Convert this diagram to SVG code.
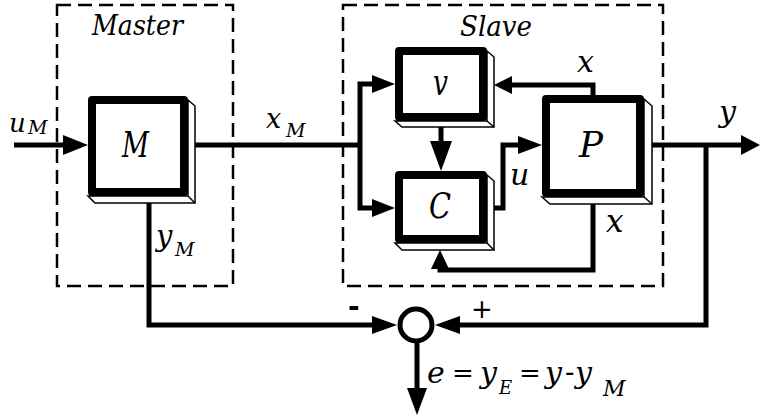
<svg xmlns="http://www.w3.org/2000/svg" width="760" height="417" viewBox="0 0 760 417" font-family="'DejaVu Serif', serif" font-style="italic">
<style>
.dash{fill:none;stroke:#000;stroke-width:2.5;stroke-dasharray:14 7}
.face{fill:#fff;stroke:#000;stroke-width:8;stroke-linejoin:round}
.shadow{fill:#fff;stroke:#000;stroke-width:1.5;stroke-linejoin:miter}
.wire{fill:none;stroke:#000;stroke-width:5;stroke-linejoin:miter;stroke-linecap:butt}
.head{fill:#000;stroke:none}
text{fill:#000}
</style>
<rect width="760" height="417" fill="#fff"/>

<g id="master-frame">
  <rect class="dash" x="57" y="5" width="176" height="281"/>
  <text x="92" y="35" font-size="28" textLength="91" lengthAdjust="spacingAndGlyphs">Master</text>
</g>
<g id="slave-frame">
  <rect class="dash" x="343" y="5" width="320" height="281"/>
  <text x="460" y="36" font-size="28" textLength="72" lengthAdjust="spacingAndGlyphs">Slave</text>
</g>

<g id="connectors">
  <path class="wire" d="M14 145H66"/>
  <polygon class="head" points="63,135 88,145 63,155"/>
  <path class="wire" d="M188 145H360"/>
  <path class="wire" d="M374 84H360V208H374"/>
  <polygon class="head" points="372,75 395,84 372,93"/>
  <polygon class="head" points="372,199 395,208 372,217"/>
  <path class="wire" d="M441 127V143"/>
  <polygon class="head" points="430,141 452,141 441,171"/>
  <path class="wire" d="M492 208H503V145H520"/>
  <polygon class="head" points="518,136 542,145 518,154"/>
  <path class="wire" d="M593 96V85H510"/>
  <polygon class="head" points="512,76 494,85 512,94"/>
  <path class="wire" d="M593 203V270H440V267"/>
  <polygon class="head" points="431,269 449,269 440,250"/>
  <path class="wire" d="M648 145H743"/>
  <polygon class="head" points="741,135 760,145 741,155"/>
  <path class="wire" d="M706 145V325H458"/>
  <polygon class="head" points="460,316 435,325 460,334"/>
  <path class="wire" d="M149 200V325H374"/>
  <polygon class="head" points="372,316 397,325 372,334"/>
  <path class="wire" d="M417 340V390"/>
  <polygon class="head" points="407,388 427,388 417,415"/>
</g>

<g id="M">
  <polygon class="shadow" points="188,100 195,106 195,203 95,203 88,196 188,196"/>
  <line x1="188" y1="196" x2="195" y2="203" stroke="#000" stroke-width="1.5"/>
  <rect class="face" x="92" y="100" width="92" height="92"/>
  <text x="122" y="157" font-size="35" textLength="27" lengthAdjust="spacingAndGlyphs">M</text>
</g>

<g id="v">
  <polygon class="shadow" points="487,51 494,57 494,127 402,127 395,121 487,121"/>
  <line x1="487" y1="121" x2="494" y2="127" stroke="#000" stroke-width="1.5"/>
  <rect class="face" x="399" y="51" width="84" height="66"/>
  <text x="433" y="95" font-size="35" textLength="15" lengthAdjust="spacingAndGlyphs">v</text>
</g>

<g id="C">
  <polygon class="shadow" points="487,175 494,181 494,250 402,250 395,243 487,243"/>
  <line x1="487" y1="243" x2="494" y2="250" stroke="#000" stroke-width="1.5"/>
  <rect class="face" x="399" y="175" width="84" height="64"/>
  <text x="429" y="218" font-size="35" textLength="22" lengthAdjust="spacingAndGlyphs">C</text>
</g>

<g id="P">
  <polygon class="shadow" points="644,99 652,106 652,204 550,204 542,197 644,197"/>
  <line x1="644" y1="197" x2="652" y2="204" stroke="#000" stroke-width="1.5"/>
  <rect class="face" x="546" y="99" width="94" height="94"/>
  <text x="579" y="157" font-size="35" textLength="24" lengthAdjust="spacingAndGlyphs">P</text>
</g>

<g id="sum">
  <circle cx="416" cy="325" r="16" fill="#fff" stroke="#000" stroke-width="5"/>
  <text x="348" y="316" font-size="28" font-weight="bold" font-family="'DejaVu Sans', sans-serif" font-style="normal">-</text>
  <text x="471" y="318" font-size="26" font-family="'DejaVu Sans', sans-serif" font-style="normal">+</text>
</g>

<g id="labels">
  <text x="9" y="132" font-size="26">u</text>
  <text x="28" y="134" font-size="19">M</text>
  <text x="266" y="128" font-size="27">x</text>
  <text x="286" y="137" font-size="19">M</text>
  <text x="156" y="246" font-size="29">y</text>
  <text x="175" y="256" font-size="19">M</text>
  <text x="719" y="122" font-size="30">y</text>
  <text x="577" y="72" font-size="30">x</text>
  <text x="606" y="232" font-size="31">x</text>
  <text x="510" y="185" font-size="30">u</text>
  <text x="427" y="383" font-size="30">e</text>
  <text x="452" y="382" font-size="26">=</text>
  <text x="480" y="383" font-size="30">y</text>
  <text x="499" y="394" font-size="18">E</text>
  <text x="519" y="382" font-size="26">=</text>
  <text x="545" y="383" font-size="30">y</text>
  <text x="565" y="381" font-size="28">-</text>
  <text x="575" y="383" font-size="30">y</text>
  <text x="603" y="396" font-size="22">M</text>
</g>
</svg>
